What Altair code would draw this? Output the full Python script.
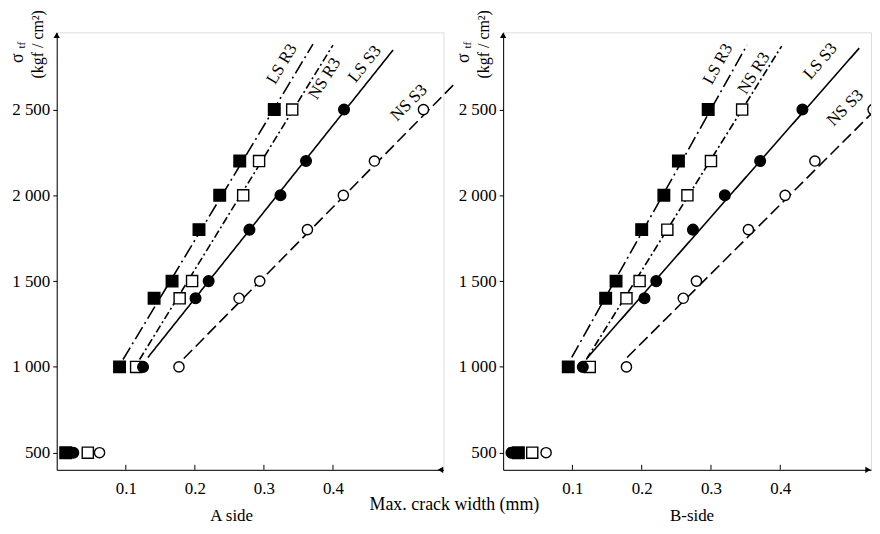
import altair as alt
import pandas as pd

SERIF = "Liberation Serif"
series = ["LS R3", "NS R3", "LS S3", "NS S3"]

# ---------------- A side : measured points ----------------
a_ls_r3_y = [500, 1000, 1400, 1500, 1800, 2000, 2200, 2500]
a_ls_r3_x = [0.013, 0.091, 0.141, 0.167, 0.206, 0.236, 0.265, 0.315]
a_ns_r3_y = [500, 1000, 1400, 1500, 2000, 2200, 2500]
a_ns_r3_x = [0.045, 0.115, 0.178, 0.196, 0.270, 0.293, 0.341]
a_ls_s3_y = [500, 1000, 1400, 1500, 1800, 2000, 2200, 2500]
a_ls_s3_x = [0.024, 0.125, 0.201, 0.220, 0.279, 0.324, 0.361, 0.416]
a_ns_s3_y = [500, 1000, 1400, 1500, 1800, 2000, 2200, 2500]
a_ns_s3_x = [0.062, 0.177, 0.264, 0.294, 0.363, 0.415, 0.460, 0.531]

# ---------------- B side : measured points ----------------
b_ls_r3_y = [500, 1000, 1400, 1500, 1800, 2000, 2200, 2500]
b_ls_r3_x = [0.022, 0.094, 0.148, 0.163, 0.200, 0.232, 0.253, 0.296]
b_ns_r3_y = [500, 1000, 1400, 1500, 1800, 2000, 2200, 2500]
b_ns_r3_x = [0.042, 0.125, 0.178, 0.197, 0.237, 0.266, 0.300, 0.345]
b_ls_s3_y = [500, 1000, 1400, 1500, 1800, 2000, 2200, 2500]
b_ls_s3_x = [0.012, 0.115, 0.204, 0.221, 0.274, 0.320, 0.371, 0.432]
b_ns_s3_y = [500, 1000, 1400, 1500, 1800, 2000, 2200, 2500]
b_ns_s3_x = [0.062, 0.178, 0.260, 0.279, 0.354, 0.407, 0.450, 0.534]

# ---------------- fitted lines (start / end) ----------------
a_line_x0 = [0.096, 0.120, 0.132, 0.184]
a_line_y0 = [1043, 1043, 1055, 1049]
a_line_x1 = [0.371, 0.400, 0.487, 0.576]
a_line_y1 = [2881, 2876, 2847, 2650]
b_line_x0 = [0.099, 0.120, 0.122, 0.179]
b_line_y0 = [1055, 1043, 1055, 1055]
b_line_x1 = [0.352, 0.402, 0.514, 0.545]
b_line_y1 = [2876, 2870, 2858, 2530]

# ---------------- series label anchors ----------------
a_label_x = [0.326, 0.388, 0.446, 0.510]
a_label_y = [2765, 2680, 2765, 2540]
b_label_x = [0.310, 0.362, 0.458, 0.494]
b_label_y = [2765, 2712, 2782, 2510]

y_ticks = [500, 1000, 1500, 2000, 2500]
x_ticks = [0.1, 0.2, 0.3, 0.4]

# ---------------- styles ----------------
DASHES = [[14, 4, 2, 4], [8, 3, 2, 3], [1, 0], [12, 5]]
SHAPES = ["square", "square", "circle", "circle"]
FILLS = ["black", "white", "black", "white"]
SIZES = [135, 105, 140, 120]
A_ANGLES = [301, 302, 309, 315]
B_ANGLES = [299, 302, 311, 315]

H = 440
Y_DOMAIN = [400, 2950]
FS = 17


def points_df(xs_list, ys_list):
    rows = []
    for s, xs, ys in zip(series, xs_list, ys_list):
        for x, y in zip(xs, ys):
            rows.append({"series": s, "x": x, "y": y})
    return pd.DataFrame(rows)


def lines_df(x0, y0, x1, y1):
    rows = []
    for i, s in enumerate(series):
        rows.append({"series": s, "x": x0[i], "y": y0[i]})
        rows.append({"series": s, "x": x1[i], "y": y1[i]})
    return pd.DataFrame(rows)


def labels_df(lx, ly):
    return pd.DataFrame({"series": series, "x": lx, "y": ly})


one = pd.DataFrame({"k": [0]})


def panel(pts, lines, labels, angles, xmax, width, side_title, side_x,
          clip, xarrow, extra_title=False):
    xs = alt.Scale(domain=[0, xmax], nice=False, zero=False)
    ys = alt.Scale(domain=Y_DOMAIN, nice=False, zero=False)
    xaxis = alt.Axis(values=x_ticks, format=".1f", ticks=False, labelPadding=11,
                     title=None, grid=False, domainColor="black", domainWidth=1,
                     labelColor="black", labelFont=SERIF, labelFontSize=FS,
                     labelFlush=False)
    yaxis = alt.Axis(values=y_ticks, format=",d",
                     labelExpr="replace(datum.label, ',', ' ')",
                     tickSize=4, tickColor="black", labelPadding=3, title=None,
                     grid=False, domainColor="black", domainWidth=1,
                     labelColor="black", labelFont=SERIF, labelFontSize=FS)
    X = alt.X("x:Q", scale=xs, axis=xaxis)
    Y = alt.Y("y:Q", scale=ys, axis=yaxis)

    layers = []
    layers.append(
        alt.Chart(lines).mark_line(color="black", strokeWidth=1.6, clip=clip).encode(
            X, Y, detail="series:N",
            strokeDash=alt.StrokeDash("series:N", scale=alt.Scale(domain=series, range=DASHES), legend=None),
        )
    )
    layers.append(
        alt.Chart(pts).mark_point(filled=True, stroke="black", strokeWidth=1.4,
                                  opacity=1, clip=clip).encode(
            X, Y,
            shape=alt.Shape("series:N", scale=alt.Scale(domain=series, range=SHAPES), legend=None),
            fill=alt.Fill("series:N", scale=alt.Scale(domain=series, range=FILLS), legend=None),
            size=alt.Size("series:N", scale=alt.Scale(domain=series, range=SIZES), legend=None),
        )
    )
    for i, s in enumerate(series):
        layers.append(
            alt.Chart(labels[labels.series == s]).mark_text(
                angle=angles[i], font=SERIF, fontSize=FS, color="black"
            ).encode(X, Y, text="series:N")
        )
    # upward x ticks
    layers.append(
        alt.Chart(pd.DataFrame({"x": x_ticks})).mark_rule(color="black", strokeWidth=1).encode(
            X, y=alt.value(H), y2=alt.value(H - 5)
        )
    )
    # axis arrows
    layers.append(
        alt.Chart(one).mark_point(shape="triangle-up", filled=True, color="black",
                                  size=40, opacity=1).encode(x=alt.value(0), y=alt.value(3))
    )
    layers.append(
        alt.Chart(one).mark_point(shape=xarrow, filled=True, color="black",
                                  size=40, opacity=1).encode(x=alt.value(width - 3), y=alt.value(H))
    )
    # y title (rotated, reading bottom to top)
    layers.append(
        alt.Chart(one).mark_text(angle=270, font=SERIF, fontSize=18, color="black",
                                 text="σ").encode(x=alt.value(-39), y=alt.value(26))
    )
    layers.append(
        alt.Chart(one).mark_text(angle=270, font=SERIF, fontSize=11, color="black",
                                 text="tf").encode(x=alt.value(-35), y=alt.value(13))
    )
    layers.append(
        alt.Chart(one).mark_text(angle=270, font=SERIF, fontSize=16, color="black",
                                 text="(kgf / cm²)").encode(x=alt.value(-19), y=alt.value(12))
    )
    # side title
    layers.append(
        alt.Chart(one).mark_text(font=SERIF, fontSize=FS, color="black",
                                 text=side_title).encode(x=alt.value(side_x), y=alt.value(H + 46))
    )
    if extra_title:
        layers.append(
            alt.Chart(one).mark_text(font=SERIF, fontSize=18, color="black",
                                     text="Max.  crack  width (mm)").encode(
                x=alt.value(400), y=alt.value(H + 35))
        )
    return alt.layer(*layers).properties(width=width, height=H)


left = panel(points_df([a_ls_r3_x, a_ns_r3_x, a_ls_s3_x, a_ns_s3_x],
                       [a_ls_r3_y, a_ns_r3_y, a_ls_s3_y, a_ns_s3_y]),
             lines_df(a_line_x0, a_line_y0, a_line_x1, a_line_y1),
             labels_df(a_label_x, a_label_y), A_ANGLES,
             0.56, 389, "A  side", 176, False, "triangle-left", extra_title=True)
right = panel(points_df([b_ls_r3_x, b_ns_r3_x, b_ls_s3_x, b_ns_s3_x],
                        [b_ls_r3_y, b_ns_r3_y, b_ls_s3_y, b_ns_s3_y]),
              lines_df(b_line_x0, b_line_y0, b_line_x1, b_line_y1),
              labels_df(b_label_x, b_label_y), B_ANGLES,
              0.531, 370, "B-side", 190, True, "triangle-right")

chart = alt.hconcat(left, right, spacing=60, bounds="flush",
                    padding={"left": 0, "top": 0, "right": 0, "bottom": 0}).configure_view(
    stroke=None).configure(background="white")

chart.save("out.html", embed_options={"renderer": "svg", "actions": False})
